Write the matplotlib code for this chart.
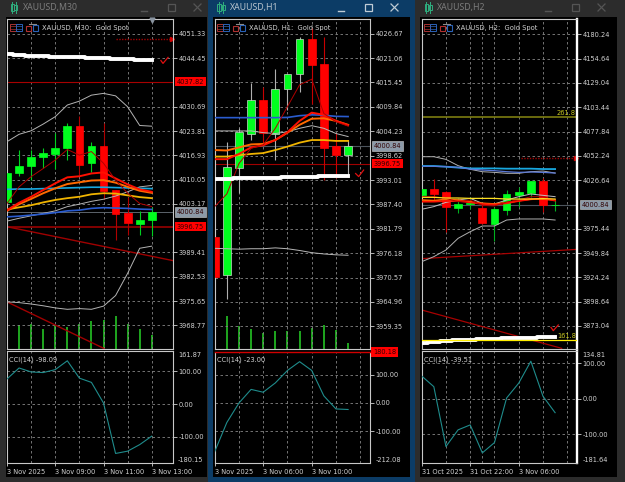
import matplotlib
matplotlib.use("Agg")
import matplotlib.pyplot as plt
from matplotlib.patches import Rectangle
from matplotlib.lines import Line2D
import numpy as np

W, H = 625, 482
GRID = "#858585"
TEXT = "#d2d2d2"
FRAME = "#c8c8c8"
RED = "#ff0000"
GREEN = "#00ff1e"
DARKRED = "#a80000"
TEAL = "#1f8c8c"
VOL = "#22b422"
LABEL = 4.8

# --- M30 ---
m30_open = [4003.7, 4011.8, 4014.0, 4016.4, 4017.4, 4018.9, 4025.2, 4014.7, 4019.6, 4007.0, 4000.5, 3997.5, 3998.6]
m30_high = [4012.0, 4018.4, 4018.4, 4018.9, 4023.2, 4026.0, 4028.2, 4020.6, 4026.0, 4007.1, 4005.2, 4001.2, 4002.4]
m30_low = [4003.7, 4011.1, 4009.9, 4013.4, 4013.2, 4015.6, 4011.4, 4012.3, 4004.7, 3992.9, 3994.3, 3994.3, 3994.1]
m30_close = [4012.0, 4013.9, 4016.5, 4017.5, 4019.0, 4025.2, 4014.2, 4019.6, 4006.8, 4000.3, 3997.7, 3998.6, 4000.84]
m30_upper = [4020.8, 4022.9, 4023.9, 4025.8, 4027.9, 4031.2, 4032.3, 4034.0, 4034.5, 4033.8, 4030.7, 4025.4, 4025.2]
m30_lower = [3975.4, 3975.2, 3974.8, 3974.3, 3973.7, 3973.3, 3973.5, 3973.3, 3974.2, 3977.2, 3983.5, 3990.6, 3991.2]
m30_mid = [3998.3, 3999.1, 3999.8, 4000.5, 4001.2, 4002.4, 4003.1, 4003.9, 4004.5, 4005.4, 4006.6, 4008.0, 4008.4]
m30_blue = [3999.5, 3999.7, 4000.0, 4000.3, 4000.7, 4001.2, 4001.4, 4001.9, 4002.1, 4002.0, 4001.9, 4001.7, 4001.6]
m30_sky = [4007.3, 4007.4, 4007.4, 4007.5, 4007.6, 4007.7, 4007.8, 4007.9, 4007.9, 4007.8, 4007.7, 4007.6, 4007.5]
m30_gold = [4001.6, 4002.2, 4002.8, 4003.6, 4004.3, 4004.8, 4005.2, 4005.9, 4006.2, 4006.1, 4005.6, 4005.1, 4004.8]
m30_orange = [4001.2, 4003.1, 4004.6, 4006.2, 4007.6, 4008.8, 4009.3, 4009.8, 4009.9, 4009.2, 4008.0, 4006.9, 4006.3]
m30_red = [4001.4, 4003.5, 4005.2, 4007.1, 4009.0, 4010.7, 4011.0, 4011.8, 4012.1, 4010.4, 4008.7, 4007.3, 4006.6]
m30_fast = [4003.3, 4008.0, 4010.9, 4013.2, 4015.6, 4018.6, 4017.0, 4018.0, 4014.7, 4009.9, 4006.2, 4003.3, 4002.4]
m30_white = [4045.6, 4045.4, 4045.2, 4045.0, 4044.9, 4044.8, 4044.7, 4044.6, 4044.5, 4044.3, 4044.2, 4044.0, 4043.9]
m30_volume = [243, 250, 196, 237, 220, 250, 280, 290, 327, 247, 203, 137]
m30_cci = [76.6, 110, 97.9, 96, 105, 132, 79, 66, 3, -151, -144, -124, -98.09]
m30_ticks = [4051.33, 4044.45, 4030.69, 4023.81, 4016.93, 4010.05, 4003.17, 3989.41, 3982.53, 3975.65, 3968.77]
m30_trend_x = [[0, 13.76], [0, 8.04]]
m30_trend_y = [[3996.7, 3987.1], [3975.4, 3962.2]]
m30_check_x = [12.76, 12.93, 13.35]
m30_check_y = [4043.8, 4043.0, 4044.7]

# --- H1 ---
h1_open = [3980.0, 3971.2, 3995.8, 4003.7, 4011.4, 4003.7, 4013.9, 4017.4, 4025.4, 4019.6, 4000.8, 3998.8]
h1_high = [3980.0, 4001.8, 4004.9, 4015.4, 4014.3, 4018.5, 4017.5, 4026.0, 4027.9, 4025.8, 4003.8, 4002.2]
h1_low = [3970.8, 3965.6, 3990.1, 4002.2, 4001.4, 3997.6, 4009.1, 4013.3, 4010.6, 3993.0, 3993.4, 3993.8]
h1_close = [3970.8, 3996.1, 4004.0, 4011.3, 4003.9, 4013.9, 4017.5, 4025.4, 4019.5, 4000.4, 3998.7, 4000.84]
h1_blue = [4007.35, 4007.35, 4007.35, 4007.35, 4007.35, 4007.35, 4007.4, 4007.8, 4008.0, 4007.9, 4007.65, 4007.6]
h1_gold = [3998.4, 3998.4, 3998.7, 3999.0, 3999.2, 3999.9, 4000.7, 4001.6, 4002.2, 4002.2, 4002.0, 4002.0]
h1_orange = [3999.9, 3999.8, 4000.5, 4001.2, 4001.3, 4002.2, 4003.9, 4005.7, 4007.1, 4007.2, 4006.6, 4005.7]
h1_red = [3997.8, 3997.8, 3999.0, 4000.5, 4001.0, 4002.2, 4004.0, 4006.6, 4008.5, 4008.0, 4006.6, 4005.6]
h1_upper = [4004.3, 4004.3, 4004.3, 4004.3, 4003.9, 4003.7, 4004.1, 4004.9, 4005.5, 4004.9, 4003.7, 4003.0]
h1_lower = [3977.3, 3977.2, 3977.1, 3977.2, 3977.2, 3977.4, 3977.2, 3976.8, 3976.3, 3976.0, 3975.8, 3975.7]
h1_fast = [3986.9, 3989.8, 3996.8, 4000.3, 4001.1, 4004.9, 4009.9, 4014.9, 4016.2, 4008.3, 4006.4, 4005.4]
h1_white = [3993.2, 3993.2, 3993.4, 3993.4, 3993.5, 3993.5, 3993.7, 3993.8, 3993.8, 3993.9, 3993.9, 3994.0]
h1_volume = [327, 233, 197, 160, 183, 177, 183, 213, 243, 187, 57]
h1_cci = [-172, -69, 0, 48, 38, 71, 115, 146, 115, 25, -21, -23.0]
h1_ticks = [4026.67, 4021.06, 4015.45, 4009.84, 4004.23, 3998.62, 3993.01, 3987.40, 3981.79, 3976.18, 3970.57, 3964.96, 3959.35]
h1_check_x = [11.62, 11.87, 12.28]
h1_check_y = [3994.5, 3993.8, 3995.3]

# --- H2 ---
h2_open = [4010.9, 4016.9, 4013.8, 3997.6, 4001.5, 3997.6, 3980.0, 3995.1, 4010.9, 4013.4, 4025.7, 4000.0]
h2_high = [4016.9, 4027.8, 4015.5, 4008.0, 4009.2, 4001.5, 3998.7, 4016.2, 4019.0, 4025.7, 4029.2, 4005.7]
h2_low = [4010.9, 4005.7, 3972.3, 3991.6, 3996.2, 3980.4, 3962.5, 3989.9, 3998.0, 4009.2, 3993.4, 3994.5]
h2_close = [4016.9, 4012.0, 3998.0, 4001.5, 4002.9, 3981.1, 3996.2, 4012.0, 4014.5, 4025.7, 4000.4, 4000.84]
h2_upper = [4051.3, 4051.3, 4048.5, 4041.9, 4038.0, 4035.5, 4034.8, 4033.8, 4033.8, 4035.5, 4036.2, 4034.1]
h2_sky = [4041.5, 4041.5, 4040.8, 4039.8, 4039.0, 4039.0, 4039.0, 4038.7, 4038.7, 4038.7, 4038.3, 4038.3]
h2_blue = [4041.2, 4041.2, 4040.8, 4040.1, 4038.3, 4037.3, 4036.6, 4035.5, 4034.8, 4035.2, 4034.8, 4034.1]
h2_mid = [3995.9, 3998.7, 4003.2, 4005.7, 4007.4, 4002.2, 4001.5, 4005.7, 4009.2, 4012.0, 4010.6, 4009.2]
h2_yellow = [4008.5, 4008.5, 4007.8, 4007.8, 4007.4, 4007.4, 4007.4, 4006.7, 4006.7, 4006.7, 4007.1, 4006.7]
h2_orange = [4005.7, 4005.0, 4006.4, 4005.7, 4003.9, 4002.2, 4001.5, 4002.9, 4005.0, 4006.7, 4006.7, 4005.7]
h2_red = [4003.9, 4003.9, 4004.6, 4004.6, 4003.2, 4001.5, 4000.8, 4002.2, 4004.6, 4006.4, 4007.4, 4005.0]
h2_fast = [4009.2, 4009.2, 4007.4, 4003.9, 4005.7, 4000.1, 3999.4, 4003.6, 4005.7, 4009.2, 4009.2, 4005.7]
h2_lower = [3940.7, 3946.0, 3953.0, 3965.3, 3972.3, 3978.3, 3978.3, 3984.6, 3985.7, 3985.7, 3985.7, 3984.6]
h2_white = [3855.4, 3856.1, 3857.1, 3857.8, 3858.2, 3858.9, 3859.2, 3859.9, 3860.3, 3860.6, 3861.0, 3861.7]
h2_cci = [64, 34, -135, -88, -74, -153, -124, 2, 44, 106, 7, -39.51]
h2_ticks = [4180.24, 4154.64, 4129.04, 4103.44, 4077.84, 4052.24, 4026.64, 3975.44, 3949.84, 3924.24, 3898.64, 3873.04]
h2_trend_x = [[0, 12.83], [0, 11.54]]
h2_trend_y = [[3943.9, 3953.7], [3889.8, 3849.4]]
h2_check_x = [10.66, 10.85, 11.26]
h2_check_y = [3871.5, 3868.0, 3874.0]


def fx(x):
    return x / W


def fy(y):
    return 1 - y / H


def rect(x0, y0, x1, y1):
    return [x0 / W, 1 - y1 / H, (x1 - x0) / W, (y1 - y0) / H]


def box(fig, x0, y0, x1, y1, color, z=-1, fill=True, lw=0.8):
    r = Rectangle((fx(x0), fy(y1)), (x1 - x0) / W, (y1 - y0) / H, transform=fig.transFigure,
                  fc=color if fill else "none", ec=color if not fill else "none", lw=lw, zorder=z)
    fig.add_artist(r)


def seg(fig, xs, ys, color, lw=0.8, z=5):
    fig.add_artist(Line2D([fx(x) for x in xs], [fy(y) for y in ys], color=color, lw=lw,
                          transform=fig.transFigure, zorder=z))


def window(fig, x0, x1, inner_right, bx, bar, title, title_col, btn_col, left):
    box(fig, x0, 0, x1, H, bar)
    box(fig, left - 1, 17, inner_right, 477, "black", z=-0.5)
    fig.text(fx(left + 16), fy(7.5), title, color=title_col, fontsize=6.3, family="Noto Sans", va="center")
    # candle icon in the title bar
    seg(fig, [left + 5, left + 5], [2, 13], "#2fae7e", 0.7)
    seg(fig, [left + 9, left + 9], [2, 13], "#2fae7e", 0.7)
    box(fig, left + 3.5, 4, left + 6.5, 11, "#2fae7e", z=5, fill=False, lw=0.7)
    box(fig, left + 7.5, 5, left + 10.5, 10, "#2fae7e", z=5, fill=False, lw=0.7)
    # minimise / maximise / close
    seg(fig, [bx - 3, bx + 3], [11, 11], btn_col, 1.0)
    box(fig, bx + 24, 4, bx + 31, 11, btn_col, z=5, fill=False, lw=0.9)
    seg(fig, [bx + 50, bx + 57], [4, 11], btn_col, 0.9)
    seg(fig, [bx + 50, bx + 57], [11, 4], btn_col, 0.9)
    # toolbar icons in the chart corner
    box(fig, left + 3, 24, left + 9, 31, "#a83232", z=5, fill=False, lw=0.7)
    box(fig, left + 9, 24, left + 15, 31, "#2a62b8", z=5, fill=False, lw=0.7)
    for y in (26.3, 28.6):
        seg(fig, [left + 3, left + 9], [y, y], "#a83232", 0.5)
        seg(fig, [left + 9, left + 15], [y, y], "#2a62b8", 0.5)
    box(fig, left + 19, 26, left + 24, 31, "#b03030", z=5, fill=False, lw=0.8)
    box(fig, left + 26, 25, left + 31, 31, "#2a62b8", z=5, fill=False, lw=0.8)
    seg(fig, [left + 22, left + 29], [24, 24], "#8a8a8a", 0.8)


def style(ax, xlim, ylim, right_lw=0.8, right_col=FRAME):
    ax.set_facecolor("black")
    ax.set_xlim(*xlim)
    ax.set_ylim(*ylim)
    for name, s in ax.spines.items():
        s.set_color(FRAME)
        s.set_linewidth(0.8)
    ax.spines["right"].set_linewidth(right_lw)
    ax.spines["right"].set_color(right_col)
    ax.yaxis.tick_right()
    ax.tick_params(axis="y", colors=TEXT, labelsize=LABEL, length=3, width=0.6, pad=0.8)
    ax.set_axisbelow(True)


def set_grid(ax, vert, labelled):
    ax.set_xticks(labelled)
    ax.set_xticks([v for v in vert if v not in labelled], minor=True)
    ax.tick_params(axis="x", which="minor", length=0)
    ax.grid(True, which="both", color=GRID, lw=0.6, linestyle=(0, (3, 3)))


def price_panel(fig, pos, xlim, ylim, ticks, vert, volume=None, **kw):
    # volume bars sit on their own hidden scale behind the prices
    if volume is not None:
        vol = fig.add_axes(pos)
        vol.set_facecolor("black")
        vol.set_xlim(*xlim)
        vol.set_ylim(0, 3300)
        vol.axis("off")
        vol.vlines(np.arange(1, len(volume) + 1), 0, volume, color=VOL, lw=1.3)
    ax = fig.add_axes(pos)
    style(ax, xlim, ylim, **kw)
    ax.patch.set_visible(False)
    ax.set_yticks(ticks)
    ax.set_yticklabels([f"{t:.2f}" for t in ticks])
    set_grid(ax, vert, [])
    ax.tick_params(axis="x", which="major", length=0, labelbottom=False)
    return ax


def candles(ax, o, h, l, c, green_wick, red_wick, green_edge):
    x = np.arange(len(o))
    for i in x:
        up = c[i] >= o[i]
        ax.vlines(i, l[i], h[i], color=green_wick if up else red_wick, lw=0.8, zorder=2)
        ax.bar(i, abs(c[i] - o[i]), bottom=min(o[i], c[i]), width=0.64, color=GREEN if up else RED,
               edgecolor=green_edge if up else RED, lw=0.5, zorder=3)


def flag(ax, val, txt, bg, fg="#300000", ec="none", dx=2.6):
    ax.annotate(txt, xy=(1, val), xycoords=("axes fraction", "data"), xytext=(dx, 0), textcoords="offset points",
                color=fg, fontsize=LABEL, va="center", ha="left", annotation_clip=False, zorder=8,
                bbox=dict(fc=bg, ec=ec, lw=0.4, pad=1.2))


def cci_panel(fig, pos, xlim, values, ylim, vert, labelled, xlabels, name, **kw):
    ax = fig.add_axes(pos)
    style(ax, xlim, ylim, **kw)
    ax.set_yticks([100, 0, -100])
    ax.set_yticklabels(["100.00", "0.00", "-100.00"])
    set_grid(ax, vert, labelled)
    ax.set_xticklabels(xlabels, ha="left")
    ax.tick_params(axis="x", which="major", colors=TEXT, labelsize=LABEL, length=2.5, width=0.6, pad=1.5)
    ax.plot(np.arange(len(values)), values, color=TEAL, lw=0.8, zorder=3)
    ax.text(0.015, 0.955, name, transform=ax.transAxes, color=TEXT, fontsize=LABEL, va="top")
    ax.annotate(f"{ylim[0]:.2f}", xy=(1, 0), xycoords="axes fraction", xytext=(3.6, 0), textcoords="offset points",
                color=TEXT, fontsize=LABEL, va="bottom", annotation_clip=False)
    return ax


plt.rcParams["font.family"] = ["DejaVu Sans"]
fig = plt.figure(figsize=(W / 100, H / 100), dpi=100, facecolor="#2c2c2c")

window(fig, 0, 208, 207, 144, "#2c2c2c", "XAUUSD,M30", "#7c7c7c", "#555555", 7)
window(fig, 208, 415, 410, 341, "#0c3c66", "XAUUSD,H1", "#b8c4ce", "#c0ccd6", 214)
window(fig, 415, 625, 617, 548, "#2c2c2c", "XAUUSD,H2", "#7c7c7c", "#555555", 421)

# M30 window
xlim = (0, 13.76)
ax = price_panel(fig, rect(7, 19, 173, 349), xlim, (3962.05, 4055.58), m30_ticks, [2, 4, 6, 8, 10, 12], m30_volume)
ax.axhline(4037.82, color=DARKRED, lw=0.8, zorder=1.5)
ax.axhline(3996.75, color="#8c0000", lw=1.3, zorder=1.5)
ax.axhline(4000.84, color="#5c646c", lw=0.7, zorder=1.5)
ax.plot([9, 13.76], [4049.9, 4049.9], color="#a00000", lw=1.0, linestyle=(0, (1, 1)))
ax.plot([13.65], [4049.9], marker=">", ms=3, color="#d00000", clip_on=False)
for tx, ty in zip(m30_trend_x, m30_trend_y):
    ax.plot(tx, ty, color="#a00000", lw=1.0, zorder=1.8)
candles(ax, m30_open, m30_high, m30_low, m30_close, "#00d020", "#b00000", GREEN)
x = np.arange(13)
ax.plot(x, m30_upper, color="#b4b4b4", lw=0.7, zorder=4)
ax.plot(x, m30_lower, color="#b4b4b4", lw=0.7, zorder=4)
ax.plot(x, m30_mid, color="#b4b4b4", lw=0.7, zorder=4)
ax.plot(x, m30_blue, color="#2a5cd0", lw=1.2, zorder=4)
ax.plot(x, m30_sky, color="#18a8e0", lw=1.2, zorder=4)
ax.plot(x, m30_gold, color="#f0b400", lw=1.3, zorder=4)
ax.plot(x, m30_orange, color="#ff6a00", lw=1.4, zorder=4)
ax.plot(x, m30_red, color="#ff1000", lw=1.4, zorder=4)
ax.plot(x, m30_fast, color="#b00000", lw=0.7, zorder=4)
ax.step(x, m30_white, color="white", lw=2.8, where="mid", zorder=4)
ax.plot(m30_check_x, m30_check_y, color="#e01010", lw=0.9, clip_on=False, zorder=6)
ax.plot([12], [4055.2], marker="v", ms=3.5, color="#8a94a0", clip_on=False, zorder=6)
flag(ax, 4037.82, "4037.82", RED)
flag(ax, 4000.84, "4000.84", "#8c9aa8", ec="#d0d0d0")
flag(ax, 3996.75, "3996.75", RED)
fig.text(fx(42), fy(27.7), "XAUUSD, M30:  Gold Spot", color=TEXT, fontsize=4.9, va="center")
cci_panel(fig, rect(7, 351, 173, 463), xlim, m30_cci, (-180.15, 161.87), [2, 4, 6, 8, 10, 12], [0, 4, 8, 12],
          ["3 Nov 2025", "3 Nov 09:00", "3 Nov 11:00", "3 Nov 13:00"], "CCI(14) -98.09")
fig.text(fx(178), fy(355), "161.87", color=TEXT, fontsize=LABEL, va="center")

# H1 window
xlim = (0, 12.83)
ax = price_panel(fig, rect(214.7, 19, 370.3, 349), xlim, (3954.14, 4030.04), h1_ticks, [2, 4, 6, 8, 10, 12], h1_volume)
ax.axhline(3996.75, color="#a00000", lw=0.8, zorder=1.5)
ax.axhline(4000.84, color="#4c545c", lw=0.8, zorder=1.5)
candles(ax, h1_open, h1_high, h1_low, h1_close, "#b0b0b0", "#c80000", "#c8d8c8")
x = np.arange(12)
ax.plot(x, h1_upper, color="#b8b8b8", lw=0.7, zorder=4)
ax.plot(x, h1_lower, color="#b8b8b8", lw=0.7, zorder=4)
ax.plot(x, h1_blue, color="#2a5cd0", lw=1.2, zorder=4)
ax.plot(x, h1_gold, color="#f0b400", lw=1.3, zorder=4)
ax.plot(x, h1_orange, color="#ff6a00", lw=1.4, zorder=4)
ax.plot(x, h1_red, color="#ff1000", lw=1.4, zorder=4)
ax.plot(x, h1_fast, color="#b00000", lw=0.7, zorder=4)
ax.step(x, h1_white, color="white", lw=2.8, where="mid", zorder=4)
ax.plot(h1_check_x, h1_check_y, color="#e01010", lw=0.9, clip_on=False, zorder=6)
flag(ax, 4000.84, "4000.84", "#8c9aa8", ec="#d0d0d0")
flag(ax, 3996.75, "3996.75", RED)
fig.text(fx(248.7), fy(27.7), "XAUUSD, H1:  Gold Spot", color=TEXT, fontsize=4.9, va="center")
cax = cci_panel(fig, rect(214.7, 352, 370.3, 463), xlim, h1_cci, (-212.08, 180.18), [2, 4, 6, 8, 10, 12], [0, 4, 8],
                ["3 Nov 2025", "3 Nov 06:00", "3 Nov 10:00"], "CCI(14) -23.00")
cax.spines["top"].set_color("#d00000")
cax.spines["top"].set_linewidth(1.0)
flag(cax, 180.18, "180.18", RED, dx=2.0)

# H2 window
ax = price_panel(fig, rect(421.7, 19, 577.3, 349), xlim, (3848.7, 4196.4), h2_ticks, [2, 4, 5, 6, 8, 10, 12],
                 right_lw=1.7, right_col="white")
ax.axhline(4093.1, color="#7c7c10", lw=1.2, zorder=1.5)
ax.axhline(4000.84, color="#4c545c", lw=0.8, zorder=1.5)
ax.plot([8.2, 12.83], [4050.0, 4050.0], color="#a00000", lw=1.0, linestyle=(0, (1, 1)))
ax.plot([12.72], [4050.0], marker=">", ms=3, color="#d00000", clip_on=False)
for tx, ty in zip(h2_trend_x, h2_trend_y):
    ax.plot(tx, ty, color="#a80000", lw=0.9, zorder=1.8)
candles(ax, h2_open, h2_high, h2_low, h2_close, "#00b020", "#c80000", GREEN)
x = np.arange(12)
ax.plot(x, h2_upper, color="#b0b0b0", lw=0.7, zorder=4)
ax.plot(x, h2_lower, color="#b0b0b0", lw=0.7, zorder=4)
ax.plot(x, h2_mid, color="#c0c0c0", lw=0.7, zorder=4)
ax.plot(x, h2_sky, color="#18a8e0", lw=1.3, zorder=4)
ax.plot(x, h2_blue, color="#5a78d8", lw=0.9, zorder=4)
ax.plot(x, h2_orange, color="#ff6a00", lw=1.2, zorder=4)
ax.plot(x, h2_red, color="#ff1000", lw=1.2, zorder=4)
ax.plot(x, h2_fast, color="#b00000", lw=0.7, zorder=4)
ax.plot(x, h2_yellow, color="#ffe020", lw=0.9, zorder=4)
ax.step(x, h2_white, color="white", lw=2.8, where="mid", zorder=4)
ax.axhline(3857.8, color="#ffee00", lw=0.9, zorder=4.5)
ax.plot(h2_check_x, h2_check_y, color="#e01010", lw=0.9, zorder=6)
ax.text(12.7, 4093.1 + 1, "261.8", color="#c8c820", fontsize=LABEL, ha="right", va="bottom")
ax.text(12.7, 3857.8 + 1, "161.8", color="#c8c820", fontsize=LABEL, ha="right", va="bottom")
flag(ax, 4000.84, "4000.84", "#8c9aa8", ec="#d0d0d0", dx=3.0)
fig.text(fx(455.7), fy(27.7), "XAUUSD, H2:  Gold Spot", color=TEXT, fontsize=4.9, va="center")
cci_panel(fig, rect(421.7, 351, 577.3, 463), xlim, h2_cci, (-181.64, 134.81), [2, 4, 5, 6, 8, 10, 12], [0, 4, 8],
          ["31 Oct 2025", "31 Oct 22:00", "3 Nov 06:00"], "CCI(14) -39.51", right_lw=1.7, right_col="white")
fig.text(fx(582), fy(355), "134.81", color=TEXT, fontsize=LABEL, va="center")

fig.savefig("out.png", dpi=100, facecolor=fig.get_facecolor())
